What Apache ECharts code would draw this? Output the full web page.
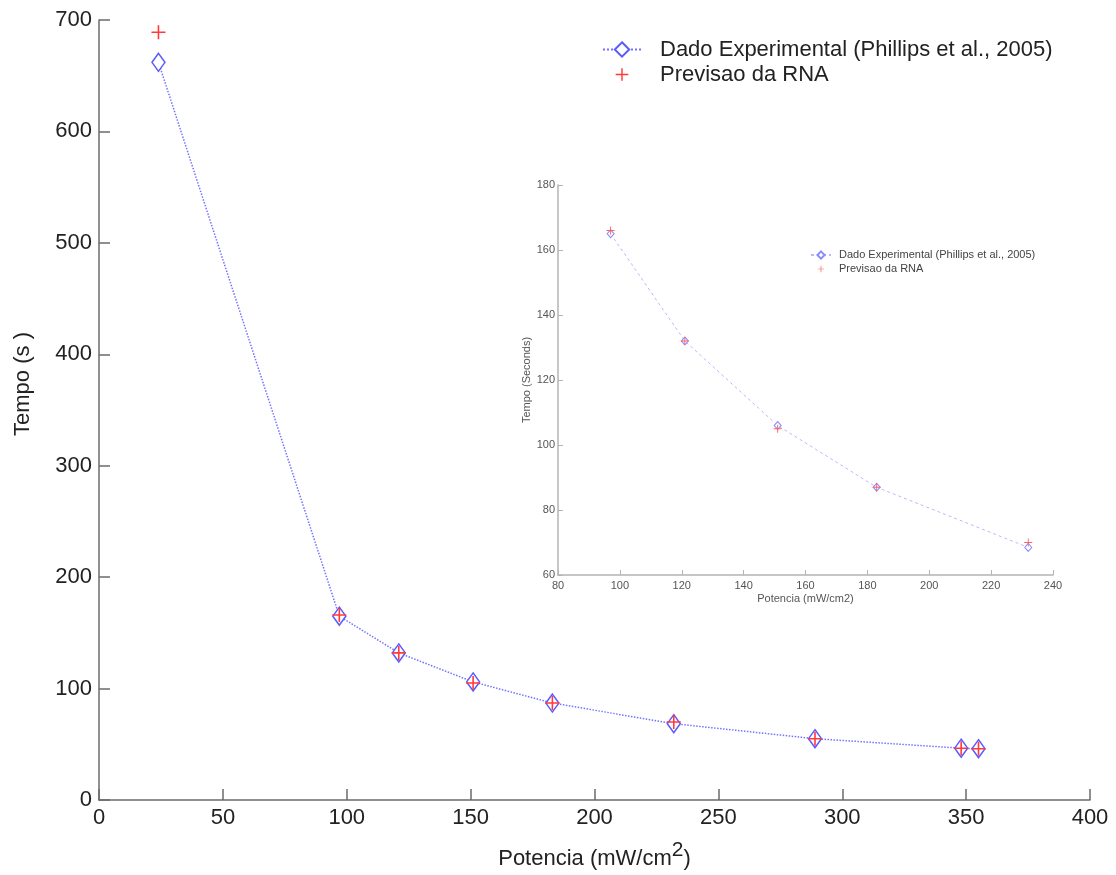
<!DOCTYPE html>
<html>
<head>
<meta charset="utf-8">
<script src="https://cdn.jsdelivr.net/npm/echarts@6/dist/echarts.min.js"></script>
<style>
  html, body { margin: 0; padding: 0; background: #fff; }
  #chart { width: 1116px; height: 875px; }
</style>
</head>
<body>
<div id="chart"></div>
<script>
// valores
const potencia = [24, 97, 121, 151, 183, 232, 289, 348, 355]
const tempoExperimental = [662, 165, 132, 106, 87, 68.5, 55, 46.5, 46]
const tempoRna = [689, 166, 132, 105, 87, 70, 55, 46.5, 46]

// detalhe (inset) usa os pontos de 97 a 232
const insetPotencia = potencia.slice(1, 6)
const insetExperimental = tempoExperimental.slice(1, 6)
const insetRna = tempoRna.slice(1, 6)

const nomeExp = 'Dado Experimental (Phillips et al., 2005)'
const nomeRna = 'Previsao da RNA'

const font = 'Liberation Sans, Arial, Helvetica, sans-serif'
const plus = 'path://M0,6.2H14V7.8H0Z M6.2,0H7.8V14H6.2Z'
// mesma cruz com margem invisivel, para o icone da legenda ficar menor
const plusLegenda = 'path://M0,0h0.01v0.01h-0.01Z M20,20h0.01v0.01h-0.01Z M3,9.2H17V10.8H3Z M9.2,3H10.8V17H9.2Z'

const pares = (xs, ys) => xs.map((x, i) => [x, ys[i]])

const myChart = echarts.init(document.getElementById('chart'))

myChart.setOption({
  animation: false,
  textStyle: { fontFamily: font },
  grid: [
    { left: 99, top: 20, width: 991, height: 782 },
    { left: 558, top: 185, width: 495, height: 390 }
  ],
  xAxis: [
    {
      gridIndex: 0, type: 'value', min: 0, max: 400, interval: 50,
      name: '{t|Potencia (mW/cm}{s|2}{t|)}',
      nameLocation: 'middle', nameGap: 40,
      nameTextStyle: {
        rich: {
          t: { fontSize: 22, color: '#222', fontFamily: font, lineHeight: 30, verticalAlign: 'bottom' },
          s: { fontSize: 21, color: '#222', fontFamily: font, lineHeight: 14, verticalAlign: 'top' }
        }
      },
      axisLine: { lineStyle: { color: '#6b6b6b', width: 1.5 } },
      axisTick: { inside: true, length: 11, lineStyle: { color: '#6b6b6b', width: 1.5 } },
      axisLabel: { fontSize: 22, color: '#222', margin: 7 },
      splitLine: { show: false }
    },
    {
      gridIndex: 1, type: 'value', min: 80, max: 240, interval: 20,
      name: 'Potencia (mW/cm2)',
      nameLocation: 'middle', nameGap: 18,
      nameTextStyle: { fontSize: 11, color: '#555' },
      axisLine: { lineStyle: { color: '#b4b4b4', width: 1.5 } },
      axisTick: { inside: true, length: 5, lineStyle: { color: '#b4b4b4' } },
      axisLabel: { fontSize: 11, color: '#555', margin: 5 },
      splitLine: { show: false }
    }
  ],
  yAxis: [
    {
      gridIndex: 0, type: 'value', min: 0, max: 700, interval: 100,
      name: 'Tempo (s )',
      nameLocation: 'middle', nameGap: 65,
      nameTextStyle: { fontSize: 22, color: '#222', padding: [0, 0, 0, 52] },
      axisLine: { show: true, lineStyle: { color: '#6b6b6b', width: 1.5 } },
      axisTick: { show: true, inside: true, length: 11, lineStyle: { color: '#6b6b6b', width: 1.5 } },
      axisLabel: { fontSize: 22, color: '#222', margin: 7 },
      splitLine: { show: false }
    },
    {
      gridIndex: 1, type: 'value', min: 60, max: 180, interval: 20,
      name: 'Tempo (Seconds)',
      nameLocation: 'middle', nameGap: 24,
      nameTextStyle: { fontSize: 11, color: '#555' },
      axisLine: { show: true, lineStyle: { color: '#b4b4b4', width: 1.5 } },
      axisTick: { show: true, inside: true, length: 5, lineStyle: { color: '#b4b4b4' } },
      axisLabel: { fontSize: 11, color: '#555', margin: 3 },
      splitLine: { show: false }
    }
  ],
  legend: [
    {
      orient: 'vertical', left: 602, top: 37, padding: 0,
      itemWidth: 38, itemHeight: 18, itemGap: 0,
      textStyle: { fontSize: 22, color: '#222', lineHeight: 25, padding: [0, 0, 0, 14] },
      data: [{ name: nomeExp, itemStyle: { color: '#fff' } }, { name: nomeRna, icon: plusLegenda }]
    },
    {
      orient: 'vertical', left: 810, top: 248, padding: 0,
      itemWidth: 20, itemHeight: 9, itemGap: 0,
      textStyle: { fontSize: 11, color: '#444', lineHeight: 14, padding: [0, 0, 0, 3] },
      data: [{ name: nomeExp + ' ', itemStyle: { color: '#fff' } }, { name: nomeRna + ' ', icon: plusLegenda }]
    }
  ],
  series: [
    {
      name: nomeExp, type: 'line', xAxisIndex: 0, yAxisIndex: 0, z: 2,
      data: pares(potencia, tempoExperimental),
      symbol: 'diamond', symbolSize: [13, 18],
      lineStyle: { type: 'dotted', color: '#7373ff', width: 1.5 },
      itemStyle: { color: '#fff', borderColor: '#5a5aff', borderWidth: 1.5 }
    },
    {
      name: nomeRna, type: 'scatter', xAxisIndex: 0, yAxisIndex: 0, z: 5,
      data: pares(potencia, tempoRna),
      symbol: plus, symbolSize: 14,
      itemStyle: { color: '#ff3a3a', opacity: 1 }
    },
    {
      name: nomeExp + ' ', type: 'line', xAxisIndex: 1, yAxisIndex: 1, z: 2,
      data: pares(insetPotencia, insetExperimental),
      symbol: 'diamond', symbolSize: [7, 8],
      lineStyle: { type: [3, 3], color: '#b8b8ff', width: 1 },
      itemStyle: { color: '#fff', borderColor: '#8c8cff', borderWidth: 1 }
    },
    {
      name: nomeRna + ' ', type: 'scatter', xAxisIndex: 1, yAxisIndex: 1, z: 5,
      data: pares(insetPotencia, insetRna),
      symbol: plus, symbolSize: 8,
      itemStyle: { color: '#ff6060', opacity: 1 }
    }
  ]
})
</script>
</body>
</html>
